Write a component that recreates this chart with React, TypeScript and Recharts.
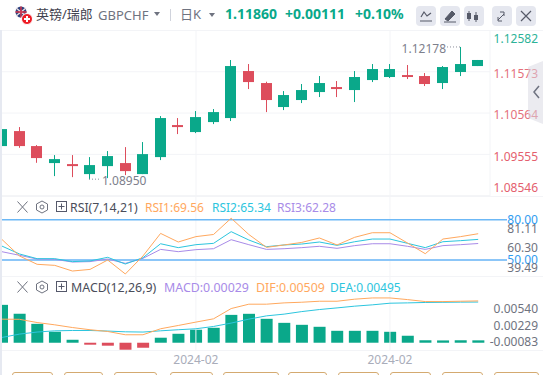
import { Bar, CartesianGrid, Cell, ComposedChart, Line, ReferenceLine, XAxis, YAxis } from 'recharts';

const UP = '#0aa88a';
const DOWN = '#dd4d5c';
const ORANGE = '#ffa85e';
const CYAN = '#2cc5de';
const PURPLE = '#a88be8';
const GREY = '#6f7380';
const GRID = '#f3f4f7';

const opens = [1.09758, 1.10124, 1.09758, 1.09343, 1.09318, 1.09074, 1.09269, 1.09343, 1.09074, 1.09489, 1.10271, 1.101, 1.10344, 1.10442, 1.1159, 1.11297, 1.10711, 1.10882, 1.11077, 1.11199, 1.11126, 1.1137, 1.11444, 1.11492, 1.11468, 1.11297, 1.11566, 1.11712];
const closes = [1.10173, 1.09758, 1.09465, 1.0944, 1.09269, 1.09294, 1.09514, 1.09147, 1.09562, 1.10442, 1.10222, 1.10466, 1.10588, 1.11712, 1.11321, 1.10882, 1.11004, 1.11126, 1.11297, 1.1115, 1.11444, 1.11639, 1.11639, 1.11444, 1.11273, 1.11688, 1.11761, 1.1186];
const highs = [1.10173, 1.10222, 1.09782, 1.09538, 1.09538, 1.09489, 1.09636, 1.09733, 1.09856, 1.10491, 1.10442, 1.10613, 1.10662, 1.11859, 1.11761, 1.11329, 1.11101, 1.11273, 1.11468, 1.11346, 1.1159, 1.11761, 1.11761, 1.11737, 1.11541, 1.11712, 1.12178, 1.1186];
const lows = [1.09758, 1.09716, 1.0935, 1.09025, 1.09, 1.0895, 1.08976, 1.09049, 1.09074, 1.09416, 1.10051, 1.10075, 1.10295, 1.10369, 1.1115, 1.10588, 1.10637, 1.10808, 1.10955, 1.10955, 1.10833, 1.11321, 1.11419, 1.11395, 1.11224, 1.1115, 1.11468, 1.11712];

const rsi1 = [65.4, 53, 46.8, 46, 41.8, 43, 50, 39.6, 53, 69.8, 63.4, 67.4, 69, 81.1, 69, 59.4, 61.2, 63.1, 66.4, 61.2, 66.9, 70.3, 70.3, 62.6, 54.7, 65.6, 67.4, 69.56];
const rsi2 = [60.4, 54.5, 51, 51, 48.8, 49.3, 52, 47, 51.7, 62.1, 59.2, 61.4, 62.4, 71.1, 64.9, 59.9, 61.2, 61.9, 63.4, 60.9, 63.6, 65.6, 65.6, 62.4, 59.2, 63.6, 64.4, 65.34];
const rsi3 = [56.2, 53.5, 50.7, 50.5, 48.5, 48.8, 50.7, 47.5, 51.2, 57.9, 56.2, 57.7, 58.4, 65.1, 61.4, 57.9, 58.4, 59.2, 60.2, 58.7, 60.7, 62.1, 62.1, 60.2, 57.9, 60.7, 61.4, 62.28];

const macd = [0.00461, 0.00352, 0.0023, 0.00133, 0.00036, -0.00024, -0.00036, -0.00085, -0.00061, 0.00061, 0.00109, 0.00158, 0.00182, 0.00339, 0.00352, 0.00291, 0.00242, 0.00218, 0.00194, 0.00145, 0.00145, 0.00145, 0.00133, 0.00085, 0.0003, 0.00028, 0.0003, 0.00029];
const dif = [0.00287, 0.00285, 0.00246, 0.00218, 0.00185, 0.00158, 0.00137, 0.00097, 0.00097, 0.0017, 0.0021, 0.00251, 0.00291, 0.00416, 0.00469, 0.00469, 0.00485, 0.00493, 0.00505, 0.00505, 0.0053, 0.00545, 0.00545, 0.00525, 0.00501, 0.00501, 0.00505, 0.00509];
const dea = [0.00064, 0.00105, 0.0013, 0.00145, 0.00149, 0.00149, 0.00142, 0.00133, 0.0013, 0.00145, 0.00158, 0.0017, 0.00198, 0.00239, 0.00287, 0.00327, 0.00348, 0.00379, 0.00404, 0.00424, 0.00445, 0.00461, 0.00481, 0.00485, 0.0049, 0.00492, 0.00494, 0.00495];

const priceTicks = [1.12582, 1.11573, 1.10564, 1.09555, 1.08546];
const rsiTicks = [81.11, 80, 60.3, 50, 39.49];
const macdTicks = [0.0054, 0.00229, -0.00083];
const monthTicks = [11, 22];

const candles = opens.map((open, i) => ({
  i,
  open,
  close: closes[i],
  high: highs[i],
  low: lows[i],
  rsi1: rsi1[i],
  rsi2: rsi2[i],
  rsi3: rsi3[i],
  macd: macd[i],
  dif: dif[i],
  dea: dea[i],
}));

const FONT = '"Noto Sans", "Noto Sans CJK SC", sans-serif';
const maxHigh = Math.max(...highs);
const minLow = Math.min(...lows);

function Candle(props: any) {
  const { x, y, width, height, payload } = props;
  const color = payload.close >= payload.open ? UP : DOWN;
  const range = payload.high - payload.low;
  const perUnit = range > 0 ? height / range : 0;
  const top = y + (payload.high - Math.max(payload.open, payload.close)) * perUnit;
  const bottom = y + (payload.high - Math.min(payload.open, payload.close)) * perUnit;
  const mid = Math.floor(x + width / 2);
  const textStyle = { fontSize: 12, fill: '#7d808c', fontFamily: FONT };
  return (
    <g>
      <rect x={mid} y={y} width={1} height={height} fill={color} />
      <rect x={mid - 5} y={top} width={11} height={Math.max(bottom - top, 1)} fill={color} />
      {payload.high === maxHigh && (
        <g>
          <line x1={mid - 13} x2={mid} y1={y} y2={y} stroke="#8b8e9a" strokeDasharray="1 2" />
          <text x={mid - 14} y={y + 6} textAnchor="end" style={textStyle}>{payload.high.toFixed(5)}</text>
        </g>
      )}
      {payload.low === minLow && (
        <g>
          <line x1={mid} x2={mid + 12} y1={y + height} y2={y + height} stroke="#8b8e9a" strokeDasharray="1 2" />
          <text x={mid + 13} y={y + height + 6} style={textStyle}>{payload.low.toFixed(5)}</text>
        </g>
      )}
    </g>
  );
}

function AxisTick(props: any) {
  const { y, payload, ticks, shifts, colors, digits } = props;
  const k = ticks.indexOf(payload.value);
  return (
    <text x={545} y={y + shifts[k]} dy="0.35em" textAnchor="end" fontSize={12} fontFamily={FONT} fill={colors[k]}>
      {payload.value.toFixed(digits)}
    </text>
  );
}

const priceShift = [8.3, 2.3, 2, 2.4, -8.3];
const priceColors = ['#2db398', '#e4707c', '#e4707c', '#e4606e', '#e4606e'];
const rsiShift = [10.6, 0, 1.8, 0, -6.6];
const rsiColors = [GREY, '#2f9cf0', GREY, '#2f9cf0', GREY];
const macdShift = [10.8, 1.7, -8];
const macdColors = [GREY, GREY, GREY];

const headerText = { position: 'absolute', whiteSpace: 'nowrap', fontFamily: FONT, lineHeight: '16px' } as const;

function Label({ x, y, color, size = 13, bold, children }: any) {
  return (
    <span style={{ ...headerText, left: x, top: y - 8, color, fontSize: size, fontWeight: bold ? 700 : 400 }}>
      {children}
    </span>
  );
}

function PaneIcons({ y }: { y: number }) {
  return (
    <svg style={{ position: 'absolute', left: 14, top: y - 8, width: 56, height: 16 }}>
      <path d="M3.5 2.5 L13.5 13.5 M13.5 2.5 L3.5 13.5" stroke="#6f7380" strokeWidth={1} />
      <path d="M28 2 L33.5 5 V11 L28 14 L22.5 11 V5 Z" fill="none" stroke="#6f7380" />
      <circle cx={28} cy={8} r={2} fill="none" stroke="#6f7380" />
      <rect x={42.5} y={2.5} width={10} height={10} fill="none" stroke="#55586a" />
      <path d="M47.5 4.5 V10.5 M44.5 7.5 H50.5" stroke="#55586a" />
    </svg>
  );
}

const toolButtons = [416, 440, 464, 492, 516];
const footerBoxes = [[12, 41], [64, 39], [114, 43], [170, 43], [223, 56], [288, 39], [338, 41], [390, 41], [442, 41], [494, 45]];
const rules = [30, 196, 276, 350];

export default function App() {
  return (
    <div style={{ position: 'absolute', left: 0, top: 0, width: 543, height: 375, overflow: 'hidden', background: '#fff' }}>
      {rules.map((y) => (
        <div key={y} style={{ position: 'absolute', left: 2, right: 0, top: y, height: 1, background: GRID }} />
      ))}

      {/* price pane */}
      <div style={{ position: 'absolute', left: -7, top: 30 }}>
        <ComposedChart width={550} height={166} data={candles} margin={{ top: 0, right: 0, bottom: 0, left: 0 }}>
          <CartesianGrid stroke={GRID} verticalPoints={[203, 397]} />
          <XAxis dataKey="i" hide scale="band" padding={{ left: 0, right: 3 }} />
          <YAxis
            orientation="right"
            width={53}
            domain={[1.08539, 1.12592]}
            allowDataOverflow
            ticks={priceTicks}
            interval={0}
            axisLine={{ stroke: GRID }}
            tickLine={false}
            tick={<AxisTick ticks={priceTicks} shifts={priceShift} colors={priceColors} digits={5} />}
          />
          <Bar dataKey={(d: any) => [d.low, d.high]} barSize={11} shape={<Candle />} isAnimationActive={false} />
        </ComposedChart>
      </div>

      {/* RSI pane */}
      <div style={{ position: 'absolute', left: -7, top: 197 }}>
        <ComposedChart width={550} height={79} data={candles} margin={{ top: 0, right: 0, bottom: 0, left: 0 }}>
          <XAxis dataKey="i" hide scale="band" padding={{ left: 0, right: 20 }} />
          <YAxis
            orientation="right"
            width={36}
            domain={[38.09, 96.9]}
            allowDataOverflow
            ticks={rsiTicks}
            interval={0}
            axisLine={false}
            tickLine={false}
            tick={<AxisTick ticks={rsiTicks} shifts={rsiShift} colors={rsiColors} digits={2} />}
          />
          <ReferenceLine x={11} stroke={GRID} />
          <ReferenceLine x={22} stroke={GRID} />
          <ReferenceLine y={80} stroke="#6cb8f6" strokeWidth={1.5} />
          <ReferenceLine y={50} stroke="#8cc6f8" strokeWidth={2} />
          <Line dataKey="rsi3" stroke={PURPLE} dot={false} strokeWidth={1} isAnimationActive={false} />
          <Line dataKey="rsi2" stroke={CYAN} dot={false} strokeWidth={1} isAnimationActive={false} />
          <Line dataKey="rsi1" stroke={ORANGE} dot={false} strokeWidth={1} isAnimationActive={false} />
        </ComposedChart>
      </div>

      {/* MACD pane */}
      <div style={{ position: 'absolute', left: -7, top: 277 }}>
        <ComposedChart width={550} height={98} data={candles} margin={{ top: 0, right: 0, bottom: 0, left: 0 }}>
          <XAxis
            dataKey="i"
            scale="band"
            height={25}
            padding={{ left: 0, right: 3 }}
            ticks={monthTicks}
            interval={0}
            tickFormatter={() => '2024-02'}
            axisLine={false}
            tickLine={false}
            tick={{ fontSize: 12, fill: '#a9adba', fontFamily: FONT, dy: -3 }}
          />
          <YAxis
            orientation="right"
            width={53}
            domain={[-0.000885, 0.008]}
            allowDataOverflow
            ticks={macdTicks}
            interval={0}
            axisLine={false}
            tickLine={false}
            tick={<AxisTick ticks={macdTicks} shifts={macdShift} colors={macdColors} digits={5} />}
          />
          <ReferenceLine x={11} stroke={GRID} />
          <ReferenceLine x={22} stroke={GRID} />
          <Bar dataKey="macd" barSize={12} isAnimationActive={false}>
            {candles.map((d) => (
              <Cell key={d.i} fill={d.macd >= 0 ? UP : DOWN} />
            ))}
          </Bar>
          <Line dataKey="dea" stroke={CYAN} dot={false} strokeWidth={1} isAnimationActive={false} />
          <Line dataKey="dif" stroke={ORANGE} dot={false} strokeWidth={1} isAnimationActive={false} />
        </ComposedChart>
      </div>

      <div style={{ position: 'absolute', left: 0, top: 30, width: 2, bottom: 0, background: '#e6e9f1' }} />

      {/* header */}
      <svg style={{ position: 'absolute', left: 14, top: 5, width: 20, height: 20 }}>
        <circle cx={7} cy={7} r={5.5} fill="#2c3f7c" />
        <path d="M2 3 L12 11 M12 3 L2 11" stroke="#e9dfe3" strokeWidth={1.5} />
        <path d="M7 1.5 V12.5 M1.5 7 H12.5" stroke="#d5344b" strokeWidth={1.5} />
        <circle cx={13} cy={14} r={5.5} fill="#ee1c25" stroke="#fff" />
        <path d="M13 11 V17 M10 14 H16" stroke="#fff" strokeWidth={2} />
      </svg>
      <Label x={36} y={14} color="#3f424f">英镑/瑞郎</Label>
      <Label x={98} y={15} color={GREY}>GBPCHF</Label>
      <svg style={{ position: 'absolute', left: 150, top: 9, width: 70, height: 12 }}>
        <path d="M4 3 H10 L7 7 Z" fill="#6f7380" />
        <rect x={20} y={0} width={1} height={12} fill="#d0d3dc" />
        <path d="M59 4 H65 L62 8 Z" fill="#6f7380" />
      </svg>
      <Label x={180} y={14} color={GREY}>日K</Label>
      <Label x={225} y={14} color={UP} size={14} bold>1.11860</Label>
      <Label x={285} y={14} color={UP} size={14} bold>+0.00111</Label>
      <Label x={355} y={14} color={UP} size={14} bold>+0.10%</Label>

      {toolButtons.map((x) => (
        <div key={x} style={{ position: 'absolute', left: x, top: 6, width: 20, height: 20, borderRadius: 4, background: '#e5e7ef' }} />
      ))}
      <svg style={{ position: 'absolute', left: 416, top: 6, width: 120, height: 20 }}>
        <path d="M5 11 L8 6 L11 10 L15 7 M4 15 H16" fill="none" stroke="#565a68" strokeWidth={1.2} />
        <path d="M29 13 L36 5 L39 8 L32 15 Z M28 16 H40" fill="#565a68" stroke="#565a68" />
        <path d="M53 5 V15 M60 6 V16" stroke="#565a68" />
        <rect x={51} y={7} width={4} height={6} fill="#565a68" />
        <rect x={58} y={9} width={4} height={5} fill="#565a68" />
        <path d="M82 14 L88 8 M88 6 H84 M88 6 V10 M82 15 V11 M82 15 H86" fill="none" stroke="#565a68" />
        <path d="M105 5 L115 15 M115 5 L105 15" stroke="#565a68" strokeWidth={1.2} />
      </svg>

      {/* pane legends */}
      <PaneIcons y={207} />
      <Label x={70} y={208} size={12.3} color="#4a4d5a">RSI(7,14,21)</Label>
      <Label x={145} y={208} size={12} color={ORANGE}>RSI1:69.56</Label>
      <Label x={212} y={208} size={12} color={CYAN}>RSI2:65.34</Label>
      <Label x={277} y={208} size={12} color={PURPLE}>RSI3:62.28</Label>
      <PaneIcons y={287} />
      <Label x={71} y={288} size={12.4} color="#4a4d5a">MACD(12,26,9)</Label>
      <Label x={164} y={288} size={12.4} color={PURPLE}>MACD:0.00029</Label>
      <Label x={256} y={288} size={12.4} color={ORANGE}>DIF:0.00509</Label>
      <Label x={330} y={288} size={12} color={CYAN}>DEA:0.00495</Label>

      {/* side tab, see-through over the axis labels */}
      <svg style={{ position: 'absolute', left: 528, top: 60, width: 15, height: 65 }}>
        <path d="M15 1 L0 7 V58 L15 64 Z" fill="#d7d8e2" fillOpacity={0.5} />
        <path d="M11 26 L6 32 L11 38" fill="none" stroke="#6f7380" strokeWidth={1.5} />
      </svg>

      {footerBoxes.map(([x, w]) => (
        <div key={x} style={{ position: 'absolute', left: x, top: 372, width: w, height: 10, boxSizing: 'border-box', border: '1px solid #d4aa70', borderRadius: 3 }} />
      ))}
    </div>
  );
}
